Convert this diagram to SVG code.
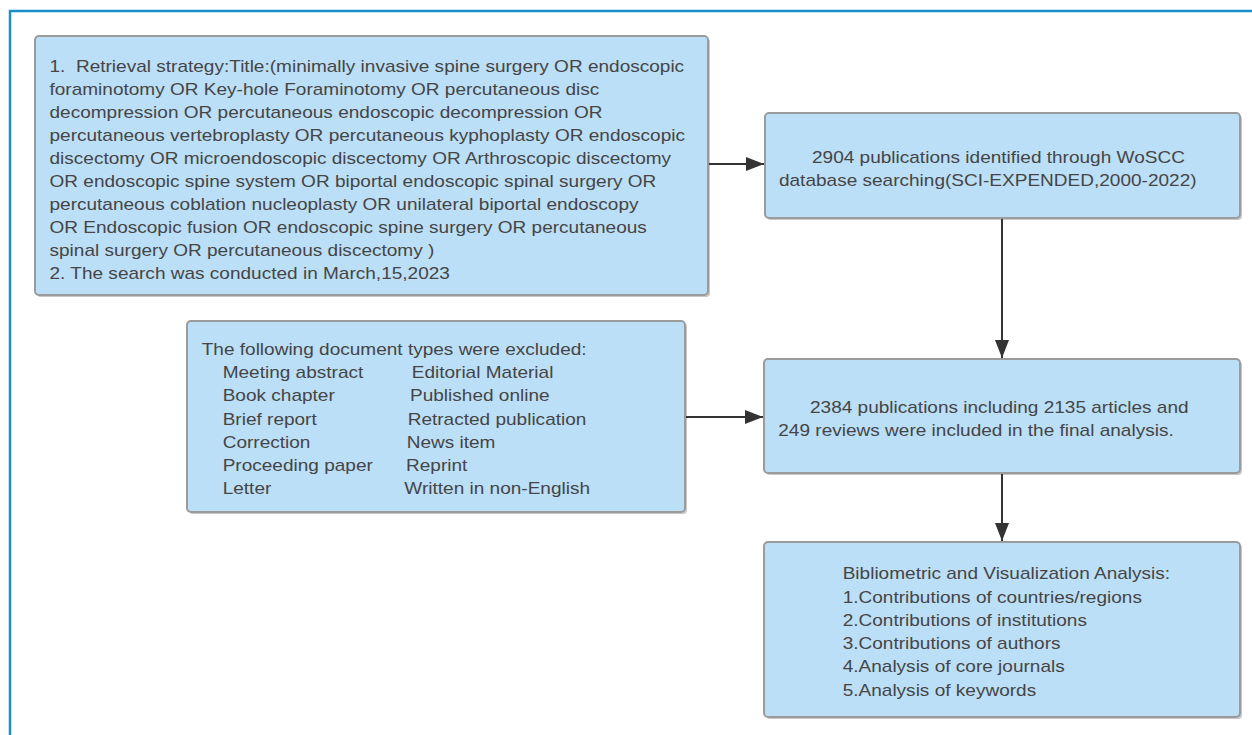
<svg xmlns="http://www.w3.org/2000/svg" width="1252" height="735" viewBox="0 0 1252 735">
<style>
.box{fill:#bcdff8;stroke:#9b9b9b;stroke-width:2}
.sh{fill:#c8c8c8}
.t{font-family:"Liberation Sans",Arial,sans-serif;font-size:17px;fill:#454545;white-space:pre}
.c{stroke:#333;stroke-width:2;fill:none}
</style>
<defs>
<marker id="ah" markerUnits="userSpaceOnUse" markerWidth="20" markerHeight="16" refX="18" refY="7" orient="auto">
<path d="M0,0 L18,7 L0,14 Z" fill="#333"/>
</marker>
</defs>
<rect width="1252" height="735" fill="#fff"/>
<path d="M10,735 V11 H1252" fill="none" stroke="#1b8fcb" stroke-width="2.5"/>

<g id="n1">
<rect class="sh" x="37" y="38" width="673" height="259" rx="4"/>
<rect class="box" x="35" y="36" width="673" height="259" rx="4"/>
<g transform="scale(1.12 1)">
<text class="t" x="44.2" y="72">1.  Retrieval strategy:Title:(minimally invasive spine surgery OR endoscopic</text>
<text class="t" x="44.2" y="95">foraminotomy OR Key-hole Foraminotomy OR percutaneous disc</text>
<text class="t" x="44.2" y="118">decompression OR percutaneous endoscopic decompression OR</text>
<text class="t" x="44.2" y="141">percutaneous vertebroplasty OR percutaneous kyphoplasty OR endoscopic</text>
<text class="t" x="44.2" y="164">discectomy OR microendoscopic discectomy OR Arthroscopic discectomy</text>
<text class="t" x="44.2" y="187.5">OR endoscopic spine system OR biportal endoscopic spinal surgery OR</text>
<text class="t" x="44.2" y="210.5">percutaneous coblation nucleoplasty OR unilateral biportal endoscopy</text>
<text class="t" x="44.2" y="233.5">OR Endoscopic fusion OR endoscopic spine surgery OR percutaneous</text>
<text class="t" x="44.2" y="256.5">spinal surgery OR percutaneous discectomy )</text>
<text class="t" x="44.2" y="279.5">2. The search was conducted in March,15,2023</text>
</g>
</g>

<g id="n2">
<rect class="sh" x="767" y="115" width="475" height="105" rx="4"/>
<rect class="box" x="765" y="113" width="475" height="105" rx="4"/>
<g transform="scale(1.12 1)">
<text class="t" x="725" y="163">2904 publications identified through WoSCC</text>
<text class="t" x="695.5" y="186.5">database searching(SCI-EXPENDED,2000-2022)</text>
</g>
</g>

<g id="n3">
<rect class="sh" x="189" y="323" width="498" height="191" rx="4"/>
<rect class="box" x="187" y="321" width="498" height="191" rx="4"/>
<g transform="scale(1.12 1)">
<text class="t" x="180.1" y="355">The following document types were excluded:</text>
<text class="t" x="198.8" y="378.3">Meeting abstract</text>
<text class="t" x="367.6" y="378.3">Editorial Material</text>
<text class="t" x="198.8" y="401.5">Book chapter</text>
<text class="t" x="366.1" y="401.5">Published online</text>
<text class="t" x="198.8" y="424.8">Brief report</text>
<text class="t" x="364" y="424.8">Retracted publication</text>
<text class="t" x="198.8" y="448">Correction</text>
<text class="t" x="363.1" y="448">News item</text>
<text class="t" x="198.8" y="471.3">Proceeding paper</text>
<text class="t" x="362.5" y="471.3">Reprint</text>
<text class="t" x="198.8" y="494.5">Letter</text>
<text class="t" x="361" y="494.5">Written in non-English</text>
</g>
</g>

<g id="n4">
<rect class="sh" x="766" y="361" width="476" height="114" rx="4"/>
<rect class="box" x="764" y="359" width="476" height="114" rx="4"/>
<g transform="scale(1.12 1)">
<text class="t" x="723.2" y="412.7">2384 publications including 2135 articles and</text>
<text class="t" x="694.9" y="436">249 reviews were included in the final analysis.</text>
</g>
</g>

<g id="n5">
<rect class="sh" x="766" y="544" width="476" height="175" rx="4"/>
<rect class="box" x="764" y="542" width="476" height="175" rx="4"/>
<g transform="scale(1.12 1)">
<text class="t" x="752.4" y="579.3">Bibliometric and Visualization Analysis:</text>
<text class="t" x="752.4" y="602.6">1.Contributions of countries/regions</text>
<text class="t" x="752.4" y="625.9">2.Contributions of institutions</text>
<text class="t" x="752.4" y="649.2">3.Contributions of authors</text>
<text class="t" x="752.4" y="672.5">4.Analysis of core journals</text>
<text class="t" x="752.4" y="695.8">5.Analysis of keywords</text>
</g>
</g>

<g id="connectors">
<path class="c" d="M709,164 H764" marker-end="url(#ah)"/>
<path class="c" d="M686,417 H763" marker-end="url(#ah)"/>
<path class="c" d="M1002,219 V358" marker-end="url(#ah)"/>
<path class="c" d="M1002,474 V541" marker-end="url(#ah)"/>
</g>
</svg>
